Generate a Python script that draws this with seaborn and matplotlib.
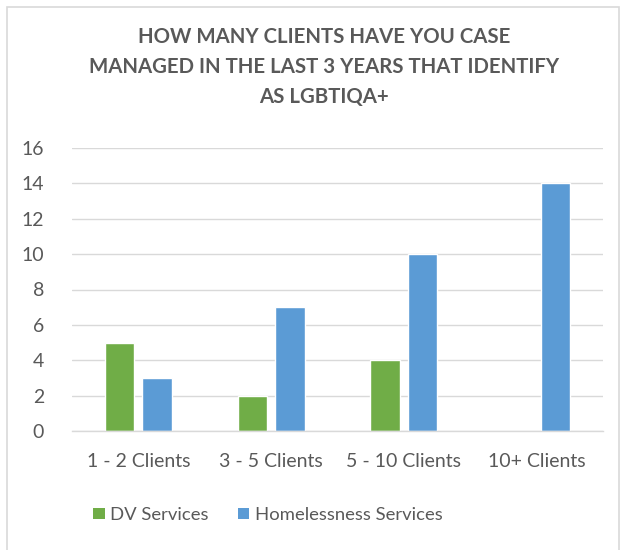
import matplotlib
matplotlib.use("Agg")
import matplotlib.pyplot as plt
import seaborn as sns
import pandas as pd
from matplotlib.patches import Rectangle, Patch

categories = ["1 - 2 Clients", "3 - 5 Clients", "5 - 10 Clients", "10+ Clients"]
dv_services = [5, 2, 4, 0]
homelessness_services = [3, 7, 10, 14]
series_names = ["DV Services", "Homelessness Services"]
colors = ["#70AD47", "#5B9BD5"]
yticks = [0, 2, 4, 6, 8, 10, 12, 14, 16]

df = pd.DataFrame({
    "category": categories * 2,
    "value": dv_services + homelessness_services,
    "series": [series_names[0]] * 4 + [series_names[1]] * 4,
})

sns.set_theme(style="white")
plt.rcParams["font.family"] = ["Lato", "DejaVu Sans"]
text_color = "#595959"

fig = plt.figure(figsize=(6.26, 5.5), dpi=100)
ax = fig.add_axes([72 / 626, 1 - 431 / 550, 531 / 626, 283 / 550])

sns.barplot(data=df, x="category", y="value", hue="series", order=categories,
            hue_order=series_names, palette=colors, width=0.565, gap=0.213,
            ax=ax, legend=False, saturation=1)

ax.set_ylim(0, 16)
ax.set_yticks(yticks)
ax.set_xlim(-0.5, 3.5)
ax.yaxis.grid(True, color="#D9D9D9", linewidth=1)
ax.set_axisbelow(True)
for side in ["left", "right", "top"]:
    ax.spines[side].set_visible(False)
ax.spines["bottom"].set_color("#D9D9D9")
ax.spines["bottom"].set_linewidth(1)
ax.tick_params(axis="both", length=0, labelsize=14, colors=text_color)
ax.tick_params(axis="y", pad=20)
ax.tick_params(axis="x", pad=16)
ax.set_xlabel("")
ax.set_ylabel("")

fig.text(324 / 626, 1 - 67 / 550,
         "HOW MANY CLIENTS HAVE YOU CASE\nMANAGED IN THE LAST 3 YEARS THAT IDENTIFY\nAS LGBTIQA+",
         ha="center", va="center", fontsize=14.7, fontweight="bold",
         color=text_color, linespacing=1.6)

handles = [Patch(facecolor=c, edgecolor="none") for c in colors]
fig.legend(handles, series_names, loc="center", bbox_to_anchor=(268 / 626, 1 - 515 / 550),
           ncol=2, frameon=False, fontsize=13.3, labelcolor=text_color,
           handlelength=0.6, handleheight=0.6, handletextpad=0.3,
           columnspacing=1.6)

fig.patches.append(Rectangle((7 / 626, -0.02), 612 / 626, 1 - 7 / 550 + 0.02,
                             transform=fig.transFigure, fill=False,
                             edgecolor="#D9D9D9", linewidth=1.2))

fig.savefig("out.png", dpi=100)
